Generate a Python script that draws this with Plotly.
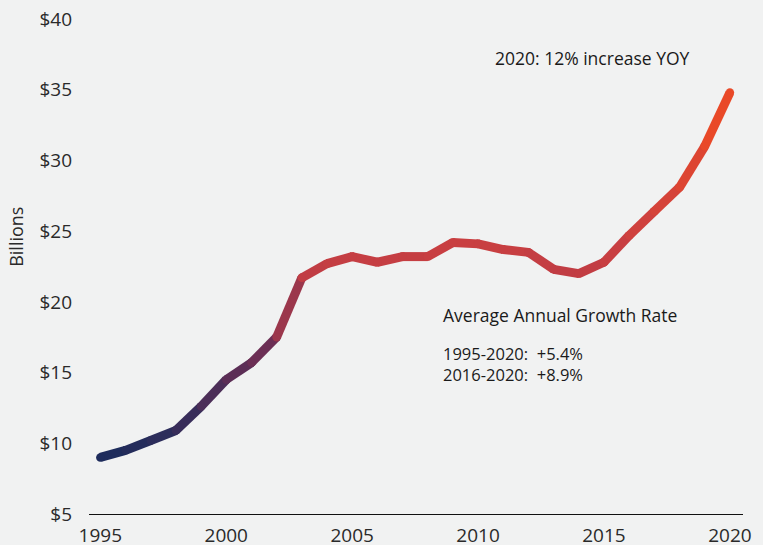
import plotly.graph_objects as go

# Annual values, billions of dollars
years = list(range(1995, 2021))
values = [9.0, 9.5, 10.2, 10.9, 12.6, 14.5, 15.7, 17.5, 21.7, 22.7, 23.2, 22.8, 23.2,
          23.2, 24.2, 24.1, 23.7, 23.5, 22.3, 22.0, 22.8, 24.7, 26.4, 28.1, 31.0, 34.8]

y_ticks = [5, 10, 15, 20, 25, 30, 35, 40]
y_labels = ["$" + str(v) for v in y_ticks]
x_ticks = [1995, 2000, 2005, 2010, 2015, 2020]

growth_rows = ["1995-2020:\u00a0\u00a0+5.4%", "2016-2020:\u00a0\u00a0+8.9%"]

# colour ramp by value: navy at the bottom, orange-red at the top
ramp = [(0.0, (27, 44, 92)), (0.3, (110, 47, 85)), (0.5, (192, 61, 68)),
        (0.62, (205, 64, 64)), (1.0, (240, 75, 34))]
vmin, vmax = min(values), max(values)


def ramp_color(v):
    t = (v - vmin) / (vmax - vmin)
    for (t0, c0), (t1, c1) in zip(ramp[:-1], ramp[1:]):
        if t <= t1:
            f = (t - t0) / (t1 - t0) if t1 > t0 else 0
            rgb = [round(a + (b - a) * f) for a, b in zip(c0, c1)]
            return "rgb({},{},{})".format(*rgb)
    return "rgb({},{},{})".format(*ramp[-1][1])


fig = go.Figure()
LW = 9
for i in range(len(years) - 1):
    col = ramp_color((values[i] + values[i + 1]) / 2)
    fig.add_trace(go.Scatter(
        x=years[i:i + 2], y=values[i:i + 2], mode="lines+markers",
        line=dict(color=col, width=LW),
        marker=dict(color=col, size=LW - 0.5, line=dict(width=0)),
        hoverinfo="skip", showlegend=False))

font_family = "Open Sans, Noto Sans, sans-serif"
ink = "#1a1a1a"


def note(text, x, y, size=17.5, xanchor="left"):
    return dict(text=text, xref="paper", yref="paper", x=x, y=y, align="left",
                xanchor=xanchor, yanchor="middle", showarrow=False,
                font=dict(size=size, color=ink, weight=500))


fig.update_layout(
    width=763, height=545,
    margin=dict(l=89, r=20, t=19, b=31),
    paper_bgcolor="#f1f2f2", plot_bgcolor="#f1f2f2",
    font=dict(family=font_family, color=ink, size=19),
    xaxis=dict(range=[1994.55, 2020.52], tickvals=x_ticks, showgrid=False,
               zeroline=False, showline=True, linecolor="#111", linewidth=1.2,
               ticks="", ticklabelstandoff=4, automargin=False,
               tickfont=dict(size=19, color="#2a2a2a")),
    yaxis=dict(range=[5, 40], tickvals=y_ticks, ticktext=y_labels, showgrid=False,
               zeroline=False, showline=False, ticks="", ticklabelstandoff=16,
               automargin=False, tickfont=dict(size=19, color="#2a2a2a")),
    annotations=[
        dict(text="Billions", xref="paper", yref="paper", x=-0.1116, y=0.56,
             xanchor="center", yanchor="middle", textangle=-90, showarrow=False,
             font=dict(size=18, color="#2a2a2a")),
        note("2020: 12% increase YOY", 0.7706, 0.921, xanchor="center"),
        note("Average\u00a0Annual Growth Rate", 0.538, 0.402),
        note("<br>".join(growth_rows), 0.538, 0.303, size=16.5),
    ],
)

fig.write_html("out.html")
